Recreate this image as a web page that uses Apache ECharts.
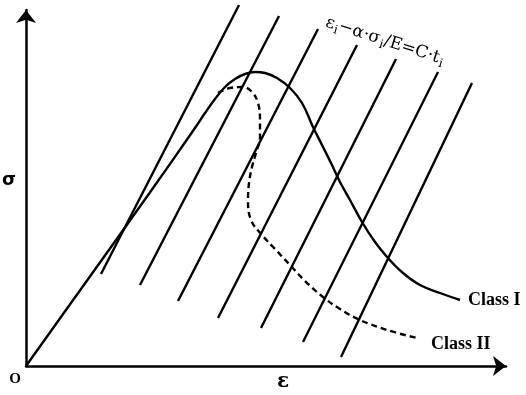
<!DOCTYPE html>
<html><head><meta charset="utf-8">
<script src="https://cdn.jsdelivr.net/npm/echarts@6/dist/echarts.min.js"></script>
<style>html,body{margin:0;padding:0;background:#fff}#c{width:526px;height:395px}</style>
</head><body><div id="c"></div>
<script>
// Curves (epsilon, sigma) in arbitrary units
const classI = [[0,0],[60,84],[120,168],[169,238],[179,253],[189,267],[199,279],[209,287],[219,292],[229,294],[239,293],[251,288],[264,278],[276,263],[287,239],[296,221],[305,203],[314,184],[324,166],[336,144],[349,124],[362,108],[377,93],[394,81],[414,73],[434,66]];
const classII = [[192,273],[204,278],[217,279],[226,274],[232,263],[234,246],[234,229],[230,213],[226,199],[223,183],[222,166],[225,146],[236,131],[249,117],[264,101],[279,85],[297,69],[314,57],[334,46],[361,36],[391,28]];
// Parallel lines eps_i - a*sigma_i/E = C*t_i : [start, end]
const isoLines = [
  [[75,92],[213,361]],
  [[114,81],[253,350]],
  [[152,65],[292,337]],
  [[192,48],[331,321]],
  [[235,38],[370,307]],
  [[277,24],[412,294]],
  [[315,9],[446,283]]
];
const seriesNames = ['Class I','Class II'];
const axisNames = {x:'ε', y:'σ', origin:'O'};

const chart = echarts.init(document.getElementById('c'), null, {renderer:'canvas'});
const lineSeries = isoLines.map((pts,i)=>({
  type:'line', data:pts, symbol:'none', clip:false, silent:true,
  lineStyle:{color:'#000', width:2.4}, z:2
}));
const option = {
  animation:false,
  backgroundColor:'#fff',
  grid:{left:26, right:20, top:10, bottom:29},
  xAxis:{type:'value', min:0, max:480, splitLine:{show:false},
    axisLabel:{show:false}, axisTick:{show:false},
    axisLine:{show:true, onZero:false, symbol:['none','arrow'], symbolSize:[15,13], lineStyle:{color:'#000', width:2.5}}},
  yAxis:{type:'value', min:0, max:356, splitLine:{show:false},
    axisLabel:{show:false}, axisTick:{show:false},
    axisLine:{show:true, onZero:false, symbol:['none','arrow'], symbolSize:[15,13], lineStyle:{color:'#000', width:2.5}}},
  series:[
    ...lineSeries,
    {type:'line', name:seriesNames[0], data:classI, symbol:'none', smooth:0.4, clip:false,
      lineStyle:{color:'#000', width:2.4}, z:3,
      endLabel:{show:true, formatter:seriesNames[0], distance:8, color:'#000',
        fontFamily:'Liberation Serif', fontWeight:'bold', fontSize:18}},
    {type:'line', name:seriesNames[1], data:classII, symbol:'none', smooth:0.4, clip:false,
      lineStyle:{color:'#000', width:2.4, type:[6,4]}, z:3,
      endLabel:{show:true, formatter:seriesNames[1], distance:14, offset:[0,6], color:'#000',
        fontFamily:'Liberation Serif', fontWeight:'bold', fontSize:18}}
  ],
  graphic:[
    {type:'text', x:9, y:180, style:{text:axisNames.y, font:'bold 18px "DejaVu Sans"', fill:'#000', align:'center', verticalAlign:'middle'}},
    {type:'text', x:283, y:382, style:{text:axisNames.x, font:'bold 20px "DejaVu Serif"', fill:'#000', align:'center', verticalAlign:'middle'}},
    {type:'text', x:15, y:379, style:{text:axisNames.origin, font:'bold 15px "Liberation Serif"', fill:'#000', align:'center', verticalAlign:'middle'}},
    {type:'text', x:326, y:22, rotation:-0.31,
      style:{text:'ε{s|i}−α·σ{s|i}/E=C·t{s|i}', font:'17px "DejaVu Serif"', fill:'#000',
        align:'left', verticalAlign:'middle',
        rich:{s:{fontSize:12, fontFamily:'DejaVu Serif', fill:'#000', padding:[10,0,0,1]}}}}
  ]
};
chart.setOption(option);
</script></body></html>
